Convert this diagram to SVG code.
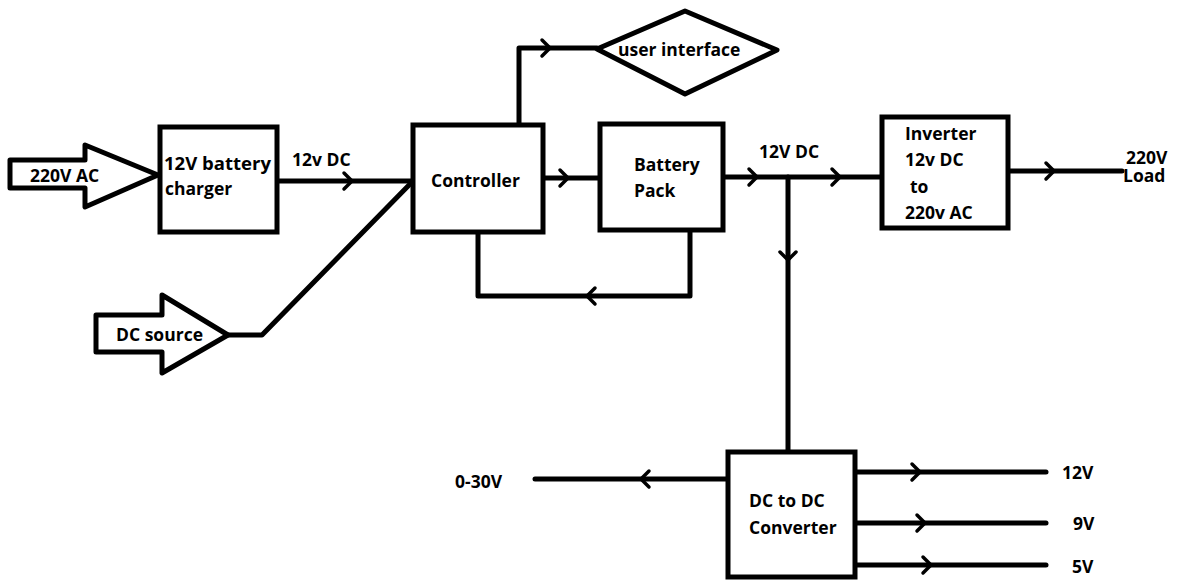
<svg xmlns="http://www.w3.org/2000/svg" width="1180" height="582" viewBox="0 0 1180 582">
<defs>
<style>
.box{fill:#fff;stroke:#000;stroke-width:5}
.ln{fill:none;stroke:#000;stroke-width:5;stroke-linecap:round;stroke-linejoin:round}
.ar{fill:none;stroke:#000;stroke-width:3.5;stroke-linecap:round;stroke-linejoin:round}
text{font-family:"Open Sans","Liberation Sans",sans-serif;font-weight:700;font-size:17.5px;fill:#000}
</style>
<path id="chev" class="ar" d="M-5,-8 L3,0 L-5,8"/>
</defs>
<rect width="1180" height="582" fill="#fff"/>
<g id="connectors">
<path class="ln" d="M277,181 L413,181"/>
<path class="ln" d="M228,335 L262,335 L413,181"/>
<path class="ln" d="M519,125 L519,48 L597,48"/>
<path class="ln" d="M543,178 L600,178"/>
<path class="ln" d="M478,230 L478,296 L690,296 L690,230"/>
<path class="ln" d="M723,177 L882,177"/>
<path class="ln" d="M788,177 L788,452"/>
<path class="ln" d="M1008,171 L1122,171"/>
<path class="ln" d="M728,479 L535,479"/>
<path class="ln" d="M855,472 L1046,472"/>
<path class="ln" d="M852,523 L1046,523"/>
<path class="ln" d="M855,565 L1046,565"/>
<use href="#chev" x="349" y="181"/>
<use href="#chev" x="547" y="48"/>
<use href="#chev" x="565" y="178"/>
<use href="#chev" transform="translate(590,296) rotate(180)"/>
<use href="#chev" x="754" y="177"/>
<use href="#chev" x="837" y="177"/>
<use href="#chev" transform="translate(788,257) rotate(90)"/>
<use href="#chev" x="1051" y="171"/>
<use href="#chev" transform="translate(644,479) rotate(180)"/>
<use href="#chev" x="917" y="472"/>
<use href="#chev" x="922" y="523"/>
<use href="#chev" x="928" y="565"/>
</g>
<g id="ac-input">
<path class="ln" d="M10,160 L85,160 L85,145 L158,175 L85,207 L85,188 L10,188 Z"/>
<text x="30" y="182">220V AC</text>
</g>
<g id="dc-source">
<path class="ln" d="M96,315 L162,315 L162,295 L228,335 L162,373 L162,352 L96,352 Z"/>
<text x="116" y="341">DC source</text>
</g>
<g id="charger">
<rect class="box" x="160" y="127" width="117" height="105"/>
<text x="164" y="170" textLength="107" lengthAdjust="spacingAndGlyphs">12V battery</text>
<text x="165" y="195">charger</text>
</g>
<text x="292" y="166">12v DC</text>
<g id="controller">
<rect class="box" x="413" y="125" width="130" height="107"/>
<text x="431" y="187">Controller</text>
</g>
<g id="user-interface">
<path class="ln" d="M597,49 L685,11 L777,50 L685,94 Z"/>
<text x="618" y="56">user interface</text>
</g>
<g id="battery">
<rect class="box" x="600" y="124" width="123" height="106"/>
<text x="634" y="171">Battery</text>
<text x="634" y="197">Pack</text>
</g>
<text x="759" y="158">12V DC</text>
<g id="inverter">
<rect class="box" x="882" y="117" width="126" height="111"/>
<text x="905" y="140">Inverter</text>
<text x="905" y="166">12v DC</text>
<text x="910" y="193">to</text>
<text x="905" y="219">220v AC</text>
</g>
<text x="1126" y="164">220V</text>
<text x="1123" y="182">Load</text>
<g id="dcdc">
<rect class="box" x="728" y="452" width="127" height="125"/>
<text x="749" y="507">DC to DC</text>
<text x="749" y="534">Converter</text>
</g>
<text x="455" y="488">0-30V</text>
<text x="1062" y="479">12V</text>
<text x="1073" y="530">9V</text>
<text x="1072" y="573">5V</text>
</svg>
